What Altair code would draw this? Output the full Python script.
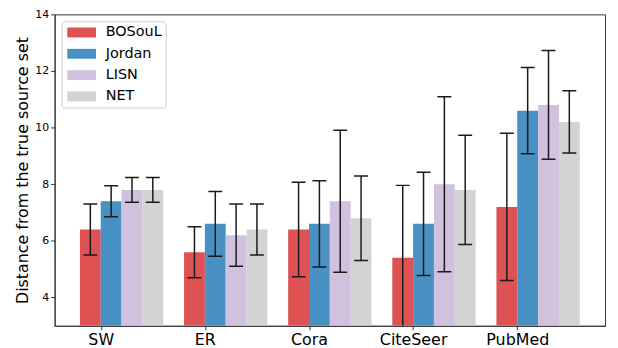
import altair as alt
import pandas as pd

datasets = ["SW", "ER", "Cora", "CiteSeer", "PubMed"]
methods = ["BOSouL", "Jordan", "LISN", "NET"]
colors = ["#DE5254", "#4A91C3", "#D0C1DE", "#D3D3D3"]

bosoul_mean = [6.4, 5.6, 6.4, 5.4, 7.2]
bosoul_err = [0.9, 0.9, 1.67, 2.56, 2.6]
jordan_mean = [7.4, 6.6, 6.6, 6.6, 10.6]
jordan_err = [0.55, 1.14, 1.52, 1.82, 1.52]
lisn_mean = [7.8, 6.2, 7.4, 8.0, 10.8]
lisn_err = [0.44, 1.1, 2.51, 3.09, 1.92]
net_mean = [7.8, 6.4, 6.8, 7.8, 10.2]
net_err = [0.44, 0.9, 1.49, 1.93, 1.1]

means = [bosoul_mean, jordan_mean, lisn_mean, net_mean]
errs = [bosoul_err, jordan_err, lisn_err, net_err]

rows = []
for m, mv, ev in zip(methods, means, errs):
    for d, v, e in zip(datasets, mv, ev):
        rows.append({"dataset": d, "method": m, "mean": v, "err": e})
df = pd.DataFrame(rows)

FONT = "DejaVu Sans"

x_enc = alt.X("dataset:N", sort=datasets,
              scale=alt.Scale(paddingInner=0.2, paddingOuter=0.243),
              axis=alt.Axis(title=None, labelFontSize=16, labelAngle=0,
                            tickOffset=-21,
                            tickSize=4, labelPadding=2, labelColor="#000",
                            domainColor="#333", tickColor="#333"))
xo_enc = alt.XOffset("method:N", sort=methods,
                     scale=alt.Scale(paddingInner=0, paddingOuter=0))
y_scale = alt.Scale(domain=[3, 14], nice=False, zero=False)

base = alt.Chart(df)

bars = base.mark_bar(clip=True).encode(
    x=x_enc,
    xOffset=xo_enc,
    y=alt.Y("mean:Q", scale=y_scale,
            axis=alt.Axis(title="Distance from the true source set",
                          titleFontSize=16, titleFontWeight="normal",
                          titleColor="#000", titlePadding=4,
                          values=[4, 6, 8, 10, 12, 14], labelFontSize=11,
                          labelColor="#000", tickSize=4, grid=False,
                          domainColor="#333", tickColor="#333")),
    y2=alt.datum(3),
    color=alt.Color("method:N", sort=methods,
                    scale=alt.Scale(domain=methods, range=colors),
                    legend=alt.Legend(
                        title=None, orient="top-left", offset=7,
                        symbolType="M-2.07,-0.71L2.07,-0.71L2.07,0.71L-2.07,0.71Z",
                        symbolSize=196, symbolStrokeWidth=0,
                        symbolOpacity=1, symbolOffset=9,
                        labelFontSize=14.5, labelOffset=17, labelColor="#000",
                        rowPadding=6.5, padding=4,
                        strokeColor="#cccccc", fillColor="white",
                        cornerRadius=3)),
)

err_color = "#1a1a1a"

rules = base.transform_calculate(
    lo="datum.mean - datum.err", hi="datum.mean + datum.err"
).mark_rule(color=err_color, strokeWidth=1.5, clip=True).encode(
    x=alt.X("dataset:N", sort=datasets),
    xOffset=xo_enc,
    y=alt.Y("lo:Q", scale=y_scale),
    y2="hi:Q",
)

caps_lo = base.transform_calculate(
    lo="datum.mean - datum.err"
).mark_tick(color=err_color, thickness=1.5, size=14, opacity=1,
            orient="horizontal", clip=True).encode(
    x=alt.X("dataset:N", sort=datasets),
    xOffset=xo_enc,
    y=alt.Y("lo:Q", scale=y_scale),
)

caps_hi = base.transform_calculate(
    hi="datum.mean + datum.err"
).mark_tick(color=err_color, thickness=1.5, size=14, opacity=1,
            orient="horizontal", clip=True).encode(
    x=alt.X("dataset:N", sort=datasets),
    xOffset=xo_enc,
    y=alt.Y("hi:Q", scale=y_scale),
)

chart = alt.layer(bars, rules, caps_lo, caps_hi).properties(
    width=555, height=314,
    autosize=alt.AutoSizeParams(type="none"),
    padding={"left": 47, "top": 5, "right": 5, "bottom": 25},
).configure(font=FONT).configure_view(
    stroke="#333", strokeWidth=1
).configure_axis(labelFont=FONT, titleFont=FONT).configure_legend(
    labelFont=FONT
)

chart.save("out.html", embed_options={"renderer": "svg", "actions": False})
